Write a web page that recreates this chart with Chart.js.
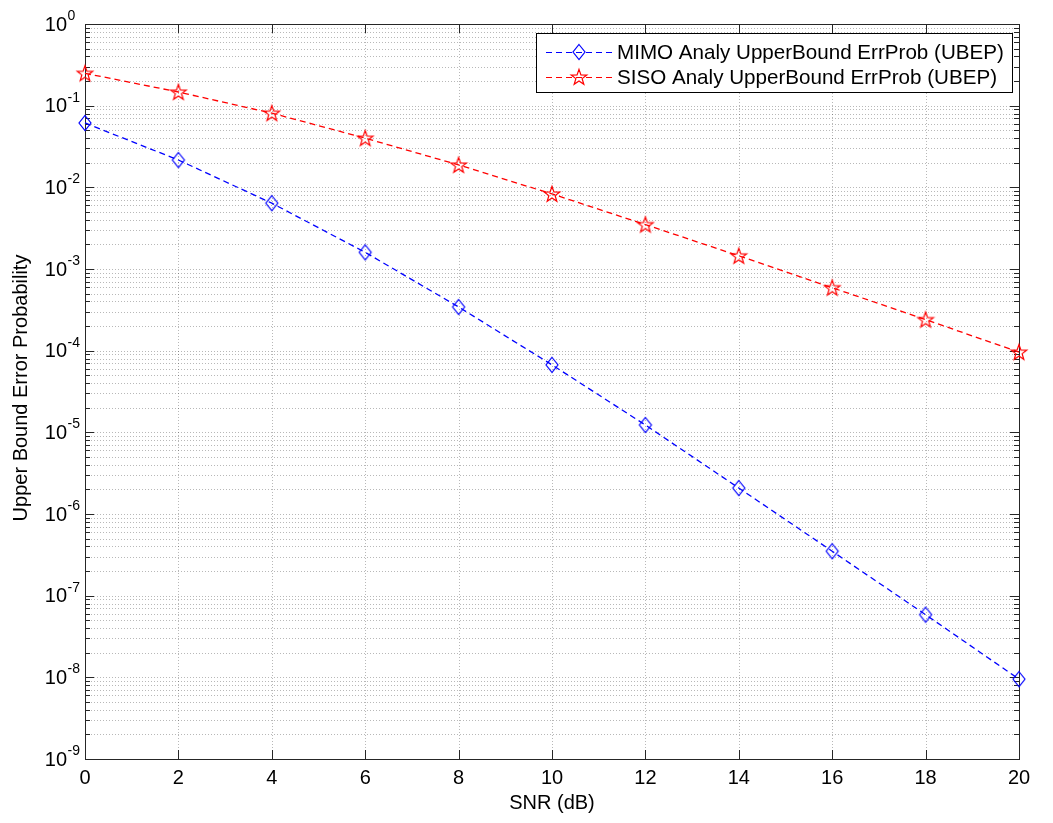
<!DOCTYPE html>
<html>
<head>
<meta charset="utf-8">
<title>UBEP vs SNR</title>
<script src="https://cdn.jsdelivr.net/npm/chart.js@4.4.1/dist/chart.umd.min.js"></script>
<style>
    html, body { margin: 0; padding: 0; background: #ffffff; }
    #wrap { width: 1053px; height: 823px; position: relative; }
</style>
</head>
<body>
<div id="wrap"><canvas id="berChart"></canvas></div>
<script>
// SNR points (dB) and the analytic upper bounds on error probability
const snrDb = [0, 2, 4, 6, 8, 10, 12, 14, 16, 18, 20];
const mimoUbep = [0.0614, 0.0216, 0.0064, 0.0016, 3.43e-4, 6.7e-5, 1.23e-5, 2.08e-6, 3.5e-7, 5.85e-8, 9.5e-9];
const sisoUbep = [0.249, 0.147, 0.081, 0.040, 0.0188, 0.0083, 0.0035, 0.00145, 5.9e-4, 2.4e-4, 9.6e-5];

const seriesNames = ["MIMO Analy UpperBound ErrProb (UBEP)", "SISO Analy UpperBound ErrProb (UBEP)"];
const xTicks = [0, 2, 4, 6, 8, 10, 12, 14, 16, 18, 20];
const yDecades = [-9, -8, -7, -6, -5, -4, -3, -2, -1, 0];

const xTitle = "SNR (dB)";
const yTitle = "Upper Bound Error Probability";

const FONT = '"Liberation Sans", Arial, Helvetica, sans-serif';
const AXIS_COLOR = "#262626";
const GRID_COLOR = "rgba(0,0,0,0.28)";

// marker images (MATLAB-like diamond and pentagram)
function diamondMarker(color) {
    const c = document.createElement("canvas");
    c.width = 16; c.height = 18;
    const g = c.getContext("2d");
    g.strokeStyle = color;
    g.lineWidth = 1.2;
    g.beginPath();
    g.moveTo(8, 1.5);
    g.lineTo(14, 9);
    g.lineTo(8, 16.5);
    g.lineTo(2, 9);
    g.closePath();
    g.stroke();
    return c;
}

function starMarker(color) {
    const c = document.createElement("canvas");
    c.width = 20; c.height = 20;
    const g = c.getContext("2d");
    g.strokeStyle = color;
    g.lineWidth = 1.2;
    const cx = 10, cy = 10.6, ro = 8.2, ri = 3.3;
    g.beginPath();
    for (let i = 0; i < 10; i++) {
        const r = i % 2 === 0 ? ro : ri;
        const a = -Math.PI / 2 + i * Math.PI / 5;
        const px = cx + r * Math.cos(a), py = cy + r * Math.sin(a);
        if (i === 0) g.moveTo(px, py); else g.lineTo(px, py);
    }
    g.closePath();
    g.stroke();
    return c;
}

const mimoMarker = diamondMarker("#0000ff");
const sisoMarker = starMarker("#ff0000");

function toPoints(xs, ys) {
    return xs.map((x, i) => ({ x: x, y: ys[i] }));
}

function allLogTicks() {
    const vals = [];
    yDecades.forEach(k => {
        for (let m = 1; m <= 9; m++) {
            if (k === 0 && m > 1) break;
            vals.push(m * Math.pow(10, k));
        }
    });
    return vals;
}

const matlabAxes = {
    id: "matlabAxes",
    beforeDatasetsDraw(chart) {
        const { ctx, chartArea: a, scales } = chart;
        const xs = scales.x, ys = scales.y;
        ctx.save();

        // dotted grid
        ctx.strokeStyle = GRID_COLOR;
        ctx.lineWidth = 1;
        ctx.setLineDash([1, 2]);
        xTicks.forEach(v => {
            const px = Math.round(xs.getPixelForValue(v)) + 0.5;
            if (px <= a.left + 1 || px >= a.right - 1) return;
            ctx.beginPath();
            ctx.moveTo(px, a.top);
            ctx.lineTo(px, a.bottom);
            ctx.stroke();
        });
        allLogTicks().forEach(v => {
            const py = Math.round(ys.getPixelForValue(v)) + 0.5;
            if (py <= a.top + 1 || py >= a.bottom - 1) return;
            ctx.beginPath();
            ctx.moveTo(a.left, py);
            ctx.lineTo(a.right, py);
            ctx.stroke();
        });
        ctx.setLineDash([]);

        // tick marks on all four sides
        ctx.strokeStyle = AXIS_COLOR;
        ctx.lineWidth = 1;
        xTicks.forEach(v => {
            const px = Math.round(xs.getPixelForValue(v)) + 0.5;
            ctx.beginPath();
            ctx.moveTo(px, a.bottom);
            ctx.lineTo(px, a.bottom - 9);
            ctx.moveTo(px, a.top);
            ctx.lineTo(px, a.top + 9);
            ctx.stroke();
        });
        allLogTicks().forEach(v => {
            const py = Math.round(ys.getPixelForValue(v)) + 0.5;
            const major = Math.abs(Math.log10(v) - Math.round(Math.log10(v))) < 1e-9;
            const len = major ? 9 : 5;
            ctx.beginPath();
            ctx.moveTo(a.left, py);
            ctx.lineTo(a.left + len, py);
            ctx.moveTo(a.right, py);
            ctx.lineTo(a.right - len, py);
            ctx.stroke();
        });

        // axes box
        ctx.strokeRect(Math.round(a.left) + 0.5, Math.round(a.top) + 0.5,
            Math.round(a.right - a.left), Math.round(a.bottom - a.top));
        ctx.restore();
    },
    afterDraw(chart) {
        const { ctx, chartArea: a, scales } = chart;
        const xs = scales.x, ys = scales.y;
        ctx.save();
        ctx.fillStyle = "#000";

        // x tick labels
        ctx.font = "20px " + FONT;
        ctx.textAlign = "center";
        ctx.textBaseline = "middle";
        xTicks.forEach(v => {
            ctx.fillText(String(v), xs.getPixelForValue(v), a.bottom + 19);
        });

        // y tick labels as 10^k
        yDecades.forEach(k => {
            const py = ys.getPixelForValue(Math.pow(10, k));
            ctx.font = "20px " + FONT;
            ctx.textAlign = "right";
            ctx.textBaseline = "middle";
            ctx.fillText("10", 67, py + 1);
            ctx.font = "14px " + FONT;
            ctx.textAlign = "left";
            ctx.fillText(String(k), 67.5, py - 8);
        });

        // axis titles
        ctx.textAlign = "center";
        ctx.textBaseline = "middle";
        ctx.font = "20px " + FONT;
        ctx.fillText(xTitle, (a.left + a.right) / 2, 803);
        ctx.save();
        ctx.translate(21, 388);
        ctx.rotate(-Math.PI / 2);
        ctx.fillText(yTitle, 0, 0);
        ctx.restore();

        // legend
        const box = { x: 536, y: 33, w: 476, h: 59 };
        ctx.fillStyle = "#fff";
        ctx.fillRect(box.x, box.y, box.w, box.h);
        ctx.strokeStyle = "#000";
        ctx.lineWidth = 1;
        ctx.strokeRect(box.x + 0.5, box.y + 0.5, box.w, box.h);
        chart.data.datasets.forEach((ds, i) => {
            const cy = 52 + i * 25;
            ctx.strokeStyle = ds.borderColor;
            ctx.setLineDash(ds.borderDash);
            ctx.beginPath();
            ctx.moveTo(546, cy + 0.5);
            ctx.lineTo(612, cy + 0.5);
            ctx.stroke();
            ctx.setLineDash([]);
            const img = ds.pointStyle;
            ctx.drawImage(img, 579 - img.width / 2, cy - img.height / 2);
            ctx.fillStyle = "#000";
            ctx.font = "20.6px " + FONT;
            ctx.textAlign = "left";
            ctx.textBaseline = "middle";
            ctx.fillText(ds.label, 617, cy + 1);
        });
        ctx.restore();
    }
};

const ctx = document.getElementById("berChart").getContext("2d");

new Chart(ctx, {
    type: "line",
    data: {
        datasets: [
            {
                label: seriesNames[0],
                data: toPoints(snrDb, mimoUbep),
                borderColor: "#0000ff",
                borderWidth: 1.3,
                borderDash: [6, 4],
                pointStyle: mimoMarker,
                pointRadius: 8,
                tension: 0,
                clip: false
            },
            {
                label: seriesNames[1],
                data: toPoints(snrDb, sisoUbep),
                borderColor: "#ff0000",
                borderWidth: 1.3,
                borderDash: [6, 4],
                pointStyle: sisoMarker,
                pointRadius: 8,
                tension: 0,
                clip: false
            }
        ]
    },
    options: {
        responsive: true,
        maintainAspectRatio: false,
        animation: false,
        layout: { padding: { top: 24, right: 34, left: 0, bottom: 0 } },
        plugins: {
            legend: { display: false },
            tooltip: { enabled: false }
        },
        scales: {
            x: {
                type: "linear",
                min: 0,
                max: 20,
                ticks: { display: false },
                grid: { display: false },
                border: { display: false },
                afterFit(scale) { scale.height = 64; }
            },
            y: {
                type: "logarithmic",
                min: 1e-9,
                max: 1,
                ticks: { display: false },
                grid: { display: false },
                border: { display: false },
                afterFit(scale) { scale.width = 85; }
            }
        }
    },
    plugins: [matlabAxes]
});
</script>
</body>
</html>
